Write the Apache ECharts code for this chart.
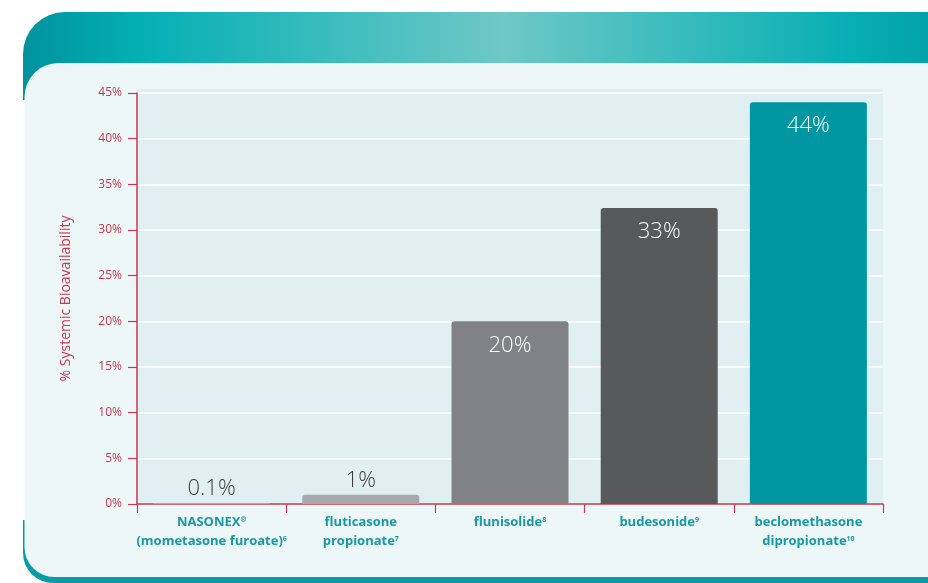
<!DOCTYPE html>
<html>
<head>
<meta charset="utf-8">
<script src="https://cdn.jsdelivr.net/npm/echarts@6/dist/echarts.min.js"></script>
<style>
html,body{margin:0;padding:0;background:#ffffff;}
#main{width:928px;height:583px;}
</style>
</head>
<body>
<div id="main"></div>
<script>
const categories = [
  'NASONEX®\n(mometasone furoate)⁶',
  'fluticasone\npropionate⁷',
  'flunisolide⁸',
  'budesonide⁹',
  'beclomethasone\ndipropionate¹⁰'
];
const values = [0.1, 1, 20, 32.4, 44];
const valueLabels = ['0.1%', '1%', '20%', '33%', '44%'];
const barColors = ['#a7a9ac', '#a7a9ac', '#808285', '#58595b', '#0097a3'];
const labelInside = [false, false, true, true, true];
const yTicks = [0, 5, 10, 15, 20, 25, 30, 35, 40, 45];

const red = '#c8374f';
const teal = '#1798a4';

const supMap = {'⁰':'0','¹':'1','²':'2','³':'3','⁴':'4','⁵':'5','⁶':'6','⁷':'7','⁸':'8','⁹':'9','®':'®'};
function richLabel(text) {
  return text.split('\n').map(line =>
    line.replace(/([^®⁰¹²³⁴⁵⁶⁷⁸⁹]+)|([®⁰¹²³⁴⁵⁶⁷⁸⁹]+)/g, (m, normal, sup) =>
      normal ? '{b|' + normal + '}' : '{s|' + sup.split('').map(c => supMap[c]).join('') + '}')
  ).join('\n');
}

const chart = echarts.init(document.getElementById('main'));

const seriesData = values.map((v, i) => ({
  value: v,
  itemStyle: { color: barColors[i] },
  label: labelInside[i]
    ? { position: 'insideTop', distance: 13, color: '#ffffff' }
    : { position: 'top', distance: 3, color: '#3d3d3d' }
}));

chart.setOption({
  animation: false,
  graphic: [
    {
      type: 'rect', z: -20, silent: true,
      shape: { x: 23, y: 12, width: 960, height: 88, r: [42, 0, 0, 0] },
      style: {
        fill: new echarts.graphic.LinearGradient(0, 0, 1, 0, [
          { offset: 0, color: '#00929e' },
          { offset: 0.12, color: '#03afb4' },
          { offset: 0.5, color: '#6ec8c6' },
          { offset: 0.86, color: '#07afb4' },
          { offset: 1, color: '#0098a3' }
        ])
      }
    },
    {
      type: 'rect', z: -19, silent: true,
      shape: { x: 23, y: 520, width: 960, height: 63, r: [0, 0, 0, 30] },
      style: { fill: '#0a9ba6' }
    },
    {
      type: 'rect', z: -18, silent: true,
      shape: { x: 24.5, y: 63, width: 960, height: 514, r: [34, 0, 0, 30] },
      style: { fill: '#eef7f8' }
    },
    {
      type: 'rect', z: -17, silent: true,
      shape: { x: 137, y: 89, width: 746, height: 415 },
      style: { fill: '#e0eff2' }
    }
  ],
  grid: {
    left: 137,
    right: 45,
    top: 93,
    bottom: 79
  },
  xAxis: {
    type: 'category',
    data: categories,
    axisLine: { show: true, lineStyle: { color: red, width: 1.5 } },
    axisTick: { show: true, length: 9, lineStyle: { color: red, width: 1.2 } },
    axisLabel: {
      interval: 0,
      margin: 9,
      lineHeight: 19,
      formatter: v => richLabel(v),
      rich: {
        b: {
          color: teal,
          fontFamily: '"Open Sans", Lato, sans-serif',
          fontWeight: 'bold',
          fontSize: 13,
          lineHeight: 19
        },
        s: {
          color: teal,
          fontFamily: '"Open Sans", Lato, sans-serif',
          fontWeight: 'bold',
          fontSize: 7,
          lineHeight: 19,
          verticalAlign: 'top',
          padding: [3, 0, 0, 0]
        }
      }
    }
  },
  yAxis: {
    type: 'value',
    min: 0,
    max: 45,
    interval: 5,
    name: '% Systemic Bioavailability',
    nameLocation: 'middle',
    nameRotate: 90,
    nameGap: 64,
    nameTextStyle: {
      color: red,
      fontSize: 14,
      fontFamily: '"Open Sans", sans-serif'
    },
    axisLine: { show: true, lineStyle: { color: red, width: 1.5 } },
    axisTick: { show: true, inside: false, length: 9, lineStyle: { color: red, width: 1.2 } },
    axisLabel: {
      color: red,
      fontSize: 12,
      fontFamily: '"Liberation Sans Narrow", "Open Sans", sans-serif',
      margin: 15,
      formatter: v => yTicks.includes(v) ? v + '%' : ''
    },
    splitLine: { show: true, lineStyle: { color: '#ffffff', width: 1.5 } }
  },
  series: [{
    type: 'bar',
    data: seriesData,
    barWidth: 117,
    itemStyle: { borderRadius: [3, 3, 0, 0] },
    label: {
      show: true,
      fontSize: 22,
      fontWeight: 300,
      fontFamily: '"Open Sans", Roboto, sans-serif',
      formatter: p => valueLabels[p.dataIndex]
    }
  }]
});
</script>
</body>
</html>
